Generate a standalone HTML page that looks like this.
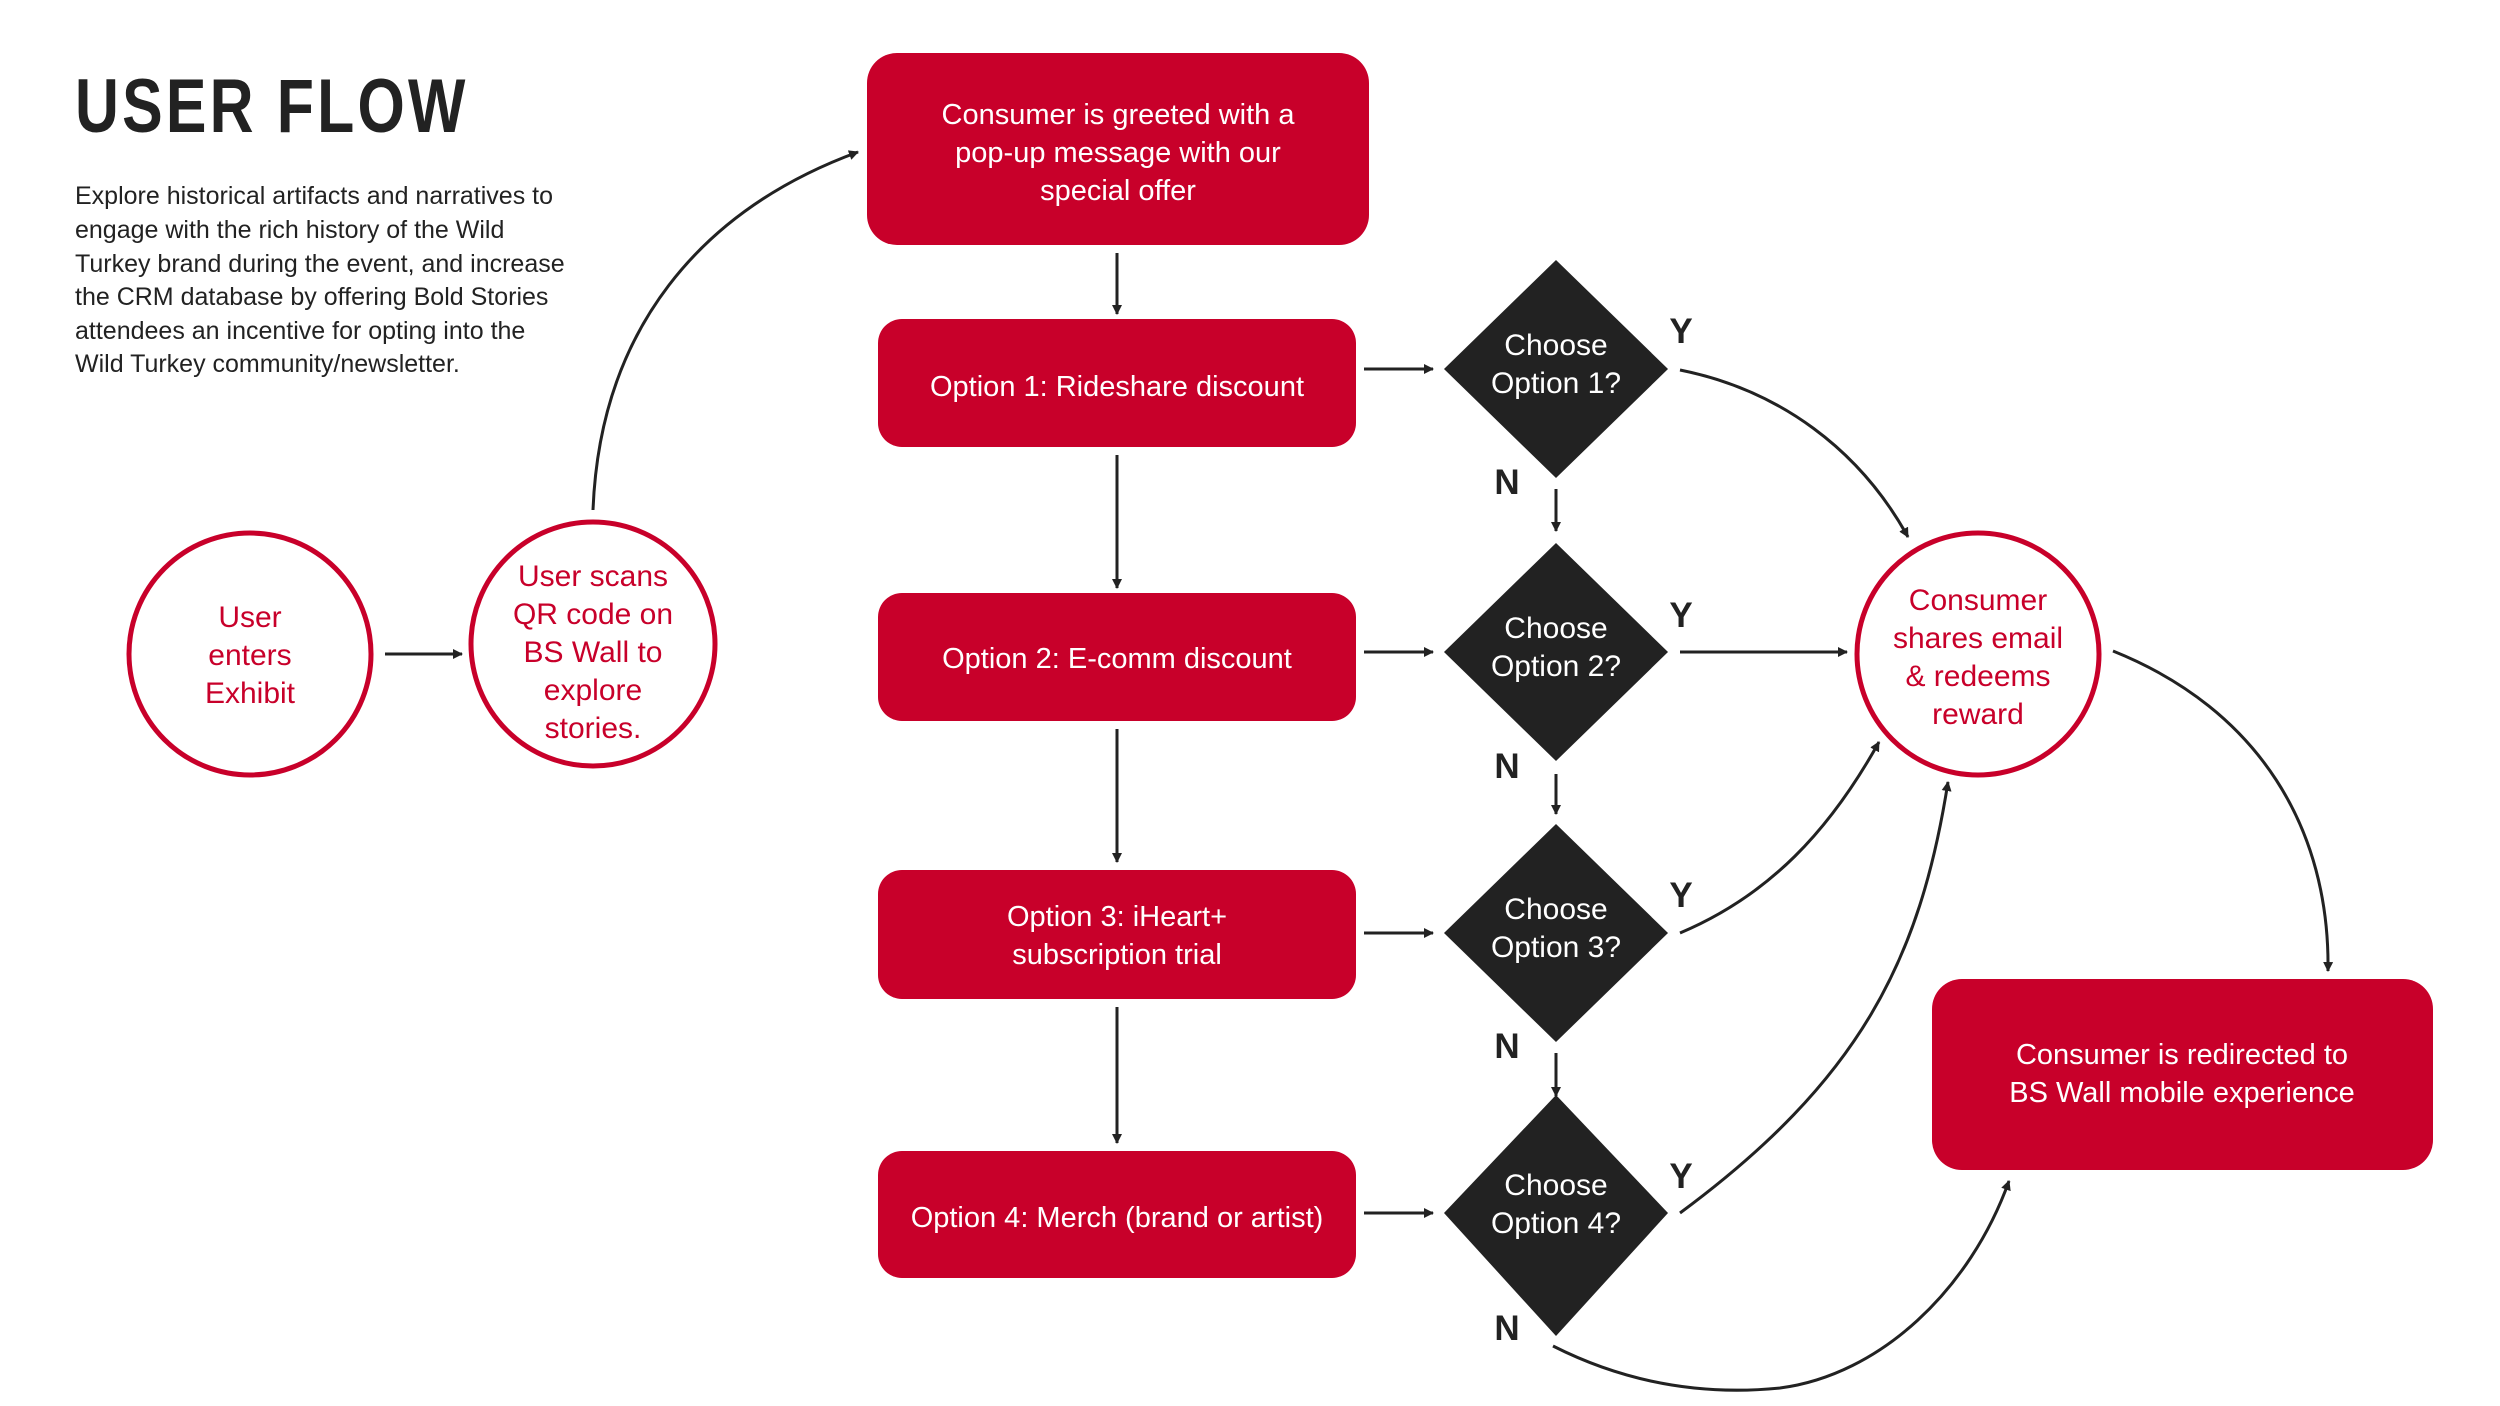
<!DOCTYPE html>
<html><head><meta charset="utf-8"><style>
html,body{margin:0;padding:0;background:#fff;}
svg{display:block;font-family:"Liberation Sans",sans-serif;}
</style></head><body>
<svg width="2500" height="1406" viewBox="0 0 2500 1406" xmlns="http://www.w3.org/2000/svg">
<defs>
<marker id="ah" markerWidth="10" markerHeight="10" refX="9" refY="5" orient="auto" markerUnits="userSpaceOnUse" viewBox="0 0 10 10">
<path d="M0,0 L10,5 L0,10 z" fill="#222"/></marker>
</defs>
<rect width="2500" height="1406" fill="#fff"/>
<text x="75" y="132" font-size="76" font-weight="bold" fill="#222" transform="translate(75 0) scale(0.8 1) translate(-75 0)" letter-spacing="4">USER FLOW</text>
<g font-size="25" fill="#222">
<text x="75" y="204">Explore historical artifacts and narratives to</text>
<text x="75" y="238">engage with the rich history of the Wild</text>
<text x="75" y="272">Turkey brand during the event, and increase</text>
<text x="75" y="305">the CRM database by offering Bold Stories</text>
<text x="75" y="339">attendees an incentive for opting into the</text>
<text x="75" y="372">Wild Turkey community/newsletter.</text>
</g>
<g fill="#c8002a">
<rect x="867" y="53" width="502" height="192" rx="30"/>
<rect x="878" y="319" width="478" height="128" rx="24"/>
<rect x="878" y="593" width="478" height="128" rx="24"/>
<rect x="878" y="870" width="478" height="129" rx="24"/>
<rect x="878" y="1151" width="478" height="127" rx="24"/>
<rect x="1932" y="979" width="501" height="191" rx="30"/>
</g>
<g font-size="29" fill="#fff" text-anchor="middle">
<text x="1118" y="124">Consumer is greeted with a</text>
<text x="1118" y="162">pop-up message with our</text>
<text x="1118" y="200">special offer</text>
<text x="1117" y="396">Option 1: Rideshare discount</text>
<text x="1117" y="668">Option 2: E-comm discount</text>
<text x="1117" y="926">Option 3: iHeart+</text>
<text x="1117" y="964">subscription trial</text>
<text x="1117" y="1227">Option 4: Merch (brand or artist)</text>
<text x="2182" y="1064">Consumer is redirected to</text>
<text x="2182" y="1102">BS Wall mobile experience</text>
</g>
<g fill="#222">
<polygon points="1556,260 1668,369 1556,478 1444,369"/>
<polygon points="1556,543 1668,652 1556,761 1444,652"/>
<polygon points="1556,824 1668,933 1556,1042 1444,933"/>
<polygon points="1556,1095 1668,1213 1556,1336 1444,1213"/>
</g>
<g font-size="30" fill="#fff" text-anchor="middle">
<text x="1556" y="355">Choose</text><text x="1556" y="393">Option 1?</text>
<text x="1556" y="638">Choose</text><text x="1556" y="676">Option 2?</text>
<text x="1556" y="919">Choose</text><text x="1556" y="957">Option 3?</text>
<text x="1556" y="1195">Choose</text><text x="1556" y="1233">Option 4?</text>
</g>
<g font-size="35" font-weight="bold" fill="#222" text-anchor="middle">
<text x="1681" y="343">Y</text><text x="1681" y="627">Y</text><text x="1681" y="907">Y</text><text x="1681" y="1188">Y</text>
<text x="1507" y="494">N</text><text x="1507" y="778">N</text><text x="1507" y="1058">N</text><text x="1507" y="1340">N</text>
</g>
<g fill="#fff" stroke="#c8002a" stroke-width="5">
<circle cx="250" cy="654" r="121"/>
<circle cx="593" cy="644" r="122"/>
<circle cx="1978" cy="654" r="121"/>
</g>
<g font-size="30" fill="#c8002a" text-anchor="middle">
<text x="250" y="627">User</text><text x="250" y="665">enters</text><text x="250" y="703">Exhibit</text>
<text x="593" y="586">User scans</text><text x="593" y="624">QR code on</text><text x="593" y="662">BS Wall to</text><text x="593" y="700">explore</text><text x="593" y="738">stories.</text>
<text x="1978" y="610">Consumer</text><text x="1978" y="648">shares email</text><text x="1978" y="686">&amp; redeems</text><text x="1978" y="724">reward</text>
</g>
<g fill="none" stroke="#222" stroke-width="3" marker-end="url(#ah)">
<line x1="385" y1="654" x2="462" y2="654"/>
<path d="M593,510 C600,330 700,210 858,152"/>
<line x1="1117" y1="253" x2="1117" y2="314"/>
<line x1="1117" y1="455" x2="1117" y2="588"/>
<line x1="1117" y1="729" x2="1117" y2="862"/>
<line x1="1117" y1="1007" x2="1117" y2="1143"/>
<line x1="1364" y1="369" x2="1433" y2="369"/>
<line x1="1364" y1="652" x2="1433" y2="652"/>
<line x1="1364" y1="933" x2="1433" y2="933"/>
<line x1="1364" y1="1213" x2="1433" y2="1213"/>
<line x1="1556" y1="489" x2="1556" y2="531"/>
<line x1="1556" y1="774" x2="1556" y2="814"/>
<line x1="1556" y1="1053" x2="1556" y2="1096"/>
<path d="M1680,370 C1780,390 1860,450 1908,537"/>
<line x1="1680" y1="652" x2="1847" y2="652"/>
<path d="M1680,933 C1770,895 1830,830 1879,742"/>
<path d="M1680,1213 C1860,1080 1920,960 1948,782"/>
<path d="M2113,651 C2260,710 2330,830 2328,971"/>
<path d="M1553,1346 C1640,1390 1720,1394 1780,1388 C1880,1375 1970,1290 2009,1181"/>
</g>
</svg>
</body></html>
